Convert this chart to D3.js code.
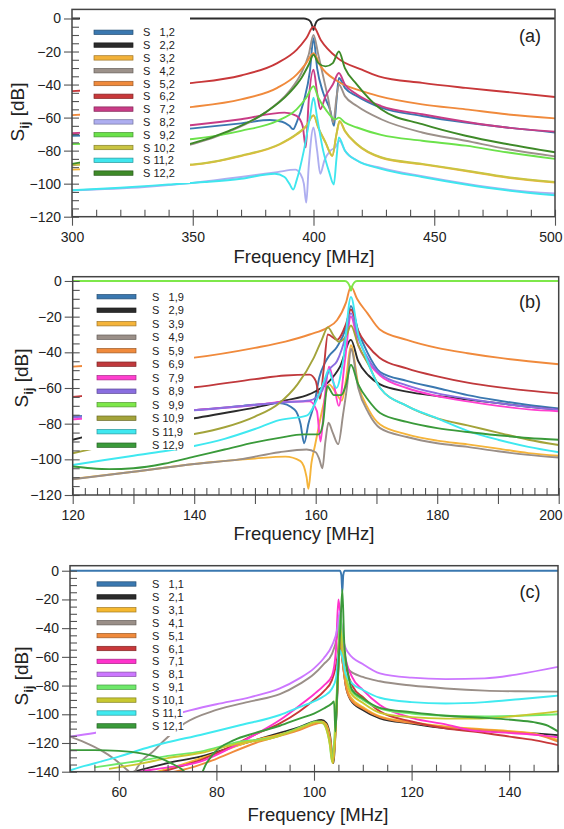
<!DOCTYPE html>
<html>
<head>
<meta charset="utf-8">
<script src="https://cdn.jsdelivr.net/npm/d3@7"></script>
<style>
body{margin:0;background:#fff;}
svg{display:block;font-family:"Liberation Sans",Arial,sans-serif;}
</style>
</head>
<body>
<div id="viz"></div>
<script>

// ---------- panel (a): S i,2 ----------
let a1 = [[300,-71],[330,-69],[350,-66.5],[370,-63.5],[382,-61.5],[387,-62.5],[390,-65],[391.6,-67],[393,-63],[396,-50],[398.5,-32],[400,-12],[401.5,-30],[404,-45],[407,-56],[408.5,-65],[409.5,-50],[410.5,-36],[413,-42],[418,-47],[428,-54],[445,-59],[463,-63],[480,-66],[500,-69]];
let a2 = [[300,0],[396,0],[397.5,-0.5],[398.8,-2],[399.6,-5],[400,-7],[400.4,-5],[401.2,-2],[402.5,-0.5],[404,0],[500,0]];
let a3 = [[300,-91.5],[320,-90.5],[350,-88.6],[370,-83.3],[386,-76.3],[393,-70.3],[397,-65.3],[400,-58.8],[402,-66.3],[405,-75.3],[407.8,-83.3],[409.5,-70.3],[410.8,-62.3],[413,-68.3],[418,-76.3],[428,-84.3],[445,-88.3],[463,-92.3],[480,-96.3],[500,-99.3]];
let a4 = [[300,-89],[320,-84],[340,-79],[350,-76],[365,-68.5],[380,-57],[390,-44],[395,-33],[398,-22],[400,-10],[402,-22],[404,-35],[406,-48],[408.2,-63],[409.5,-48],[410.5,-40],[413,-47],[418,-53],[428,-61],[445,-69],[463,-74],[480,-79],[500,-83.5]];
let a5 = [[300,-58.5],[330,-56],[350,-53.5],[370,-49],[385,-42],[393,-34],[397,-27],[400,-21],[403,-29],[410,-38],[420,-44],[427,-47],[445,-52],[463,-55],[480,-58],[500,-60.5]];
let a6 = [[300,-44],[330,-41.5],[350,-39],[370,-34.5],[385,-27],[393,-19],[397,-12],[400,-5],[403,-13],[410,-24],[420,-31],[427,-35],[445,-39],[463,-42],[480,-44.5],[500,-47.5]];
let a7 = [[300,-69.5],[330,-67],[350,-64.5],[370,-61],[388,-57],[393,-59],[395.5,-65],[396.8,-78],[398,-50],[400,-31],[401.5,-45],[402.8,-55],[405,-47],[408,-40],[410.5,-33],[413,-40],[418,-46],[428,-53],[445,-58],[463,-62.5],[480,-66],[500,-68.5]];
let a8 = [[300,-104],[330,-102],[350,-99.5],[370,-96],[385,-93],[392.5,-91.5],[394.5,-94],[396,-100],[397,-111.5],[398,-90],[400,-66],[401.5,-80],[402.8,-94],[404.5,-86],[407,-80],[409,-78],[410.8,-74],[413,-80],[418,-86],[428,-90.5],[445,-95.5],[463,-100],[480,-103.5],[500,-106]];
let a9 = [[300,-76],[330,-75],[350,-73],[370,-68],[385,-62],[393,-55],[397,-48],[400,-41],[402,-48],[405,-55],[409,-61],[410.5,-60],[413,-63],[418,-66],[428,-70.5],[445,-74],[463,-77],[480,-81],[500,-85]];
let a10 = [[300,-88.5],[330,-89],[350,-88.3],[370,-83],[386,-76],[393,-70],[397,-65],[400,-58.5],[402,-66],[405,-75],[407.8,-83],[409.5,-70],[410.8,-62],[413,-68],[418,-76],[428,-84],[445,-88],[463,-92],[480,-96],[500,-99]];
let a11 = [[300,-104],[320,-102.5],[340,-100.5],[355,-99],[370,-97],[384,-94],[388,-96],[390,-100],[391.6,-103.5],[393,-98],[396,-80],[398.5,-60],[400,-48],[401.5,-60],[404,-80],[406.5,-93],[408.4,-100.5],[409.5,-85],[410.5,-72],[413,-80],[418,-86],[428,-91],[445,-96],[463,-100.5],[480,-104],[500,-107]];
let a12 = [[300,-88],[320,-83],[340,-78.5],[350,-75.5],[365,-68],[380,-57],[390,-45],[395,-36],[398,-28],[400,-22],[402,-27],[405,-29],[408,-27],[410.5,-20],[413,-30],[418,-40],[428,-55],[445,-64],[463,-71],[480,-76],[500,-81]];
let namesA = ["1,2","2,2","3,2","4,2","5,2","6,2","7,2","8,2","9,2","10,2","11,2","12,2"];
let colorsA = ["#3a78b0","#2b2b2b","#f2b23a","#9c918a","#f08a3c","#c8383a","#c83c86","#aeaef0","#6be24a","#c9c442","#3fe6ee","#3e8a28"];

// ---------- panel (b): S i,9 ----------
let b1 = [[120,-76],[130,-74.5],[140,-72.4],[148,-70],[154,-68.5],[156.5,-72],[157.5,-80],[158.1,-91],[158.8,-80],[159.8,-68.5],[160.6,-54],[161.5,-46],[162.2,-42],[163.5,-37],[165,-26],[165.8,-14],[167,-28],[168.5,-40],[170.6,-51],[175,-56],[180,-60],[185,-64],[190,-67],[195,-69.5],[200,-71.5]];
let b2 = [[120,-89],[125,-85],[130,-82],[135,-79.5],[140,-77],[145,-74],[150,-71],[155,-67],[159,-63.5],[162,-57],[164,-48],[165.8,-33],[167,-45],[168.7,-53],[170.6,-58],[175,-62],[180,-64.5],[185,-66.5],[190,-68.5],[195,-70.5],[200,-72]];
let b3 = [[120,-111],[130,-107],[140,-102.6],[150,-99.5],[155,-98.5],[157.5,-101],[158.5,-110],[158.8,-116.5],[159.3,-102],[159.9,-92],[160.6,-80],[161.5,-66],[162.2,-58],[163.2,-62],[164.3,-67],[165,-55],[165.8,-36],[167,-58],[168.7,-72],[170.6,-80.5],[175,-86],[180,-89.5],[185,-91.6],[190,-94],[195,-96.5],[200,-98]];
let b4 = [[120,-111.2],[130,-107],[140,-102.6],[147.5,-100],[154,-96],[158.5,-94.5],[160,-96],[160.6,-100],[161.1,-105],[161.6,-90],[162.1,-79.5],[162.8,-85],[163.7,-91.5],[164.5,-75],[165.2,-58],[165.8,-38],[167,-60],[168.7,-74],[170.6,-82.5],[175,-87.5],[180,-91],[185,-93],[190,-95.5],[195,-97.5],[200,-99]];
let b5 = [[120,-48],[130,-46],[140,-43],[150,-37.5],[155,-34],[159,-30],[162,-26],[163.5,-22],[165,-12],[165.8,-3],[166.8,-10],[168.5,-18],[170.5,-27],[175,-33],[180,-37.5],[185,-40.5],[190,-43],[195,-45],[200,-46.7]];
let b6 = [[120,-65],[130,-62],[140,-59.6],[150,-55],[155,-53],[159,-52.5],[160,-56],[160.7,-66],[161.3,-50],[162,-30],[163.5,-33],[165,-24],[165.8,-16],[167,-28],[168.5,-36],[170.5,-43],[175,-49],[180,-53.5],[185,-57],[190,-59.5],[195,-61.5],[200,-63]];
let b7 = [[120,-77.6],[130,-75],[140,-72.4],[150,-69.5],[155,-67.7],[159,-67.5],[160.2,-73],[160.8,-90],[161.5,-65],[162.2,-48],[163,-58],[163.8,-70],[164.8,-45],[165.8,-20],[167,-36],[168.7,-46],[170.6,-53],[175,-60],[180,-64.5],[185,-67.5],[190,-70],[195,-72],[200,-73]];
let b8 = [[120,-76.5],[130,-74.5],[140,-72.5],[150,-69.5],[155,-68],[159,-67],[161,-62],[162.2,-50],[163.5,-45],[165,-30],[165.8,-18],[167,-32],[168.7,-44],[170.6,-52],[175,-58.5],[180,-63],[185,-66],[190,-68.5],[195,-70.5],[200,-72]];
let b9 = [[120,0],[164.8,0],[165.3,-1],[165.6,-3],[165.8,-5.5],[166,-3],[166.3,-1],[166.8,0],[200,0]];
let b10 = [[120,-96.6],[125,-93],[130,-90.5],[135,-88.5],[140,-85.8],[145,-82],[150,-76],[154,-68.5],[157,-58],[159.7,-43],[161,-33],[162,-26],[163,-31],[163.8,-34],[165,-31],[165.8,-25],[167,-36],[168.7,-47],[170.6,-60],[175,-70],[180,-77],[185,-81],[190,-85],[195,-89],[200,-92]];
let b11 = [[120,-103.2],[125,-100.5],[130,-98],[135,-95.5],[140,-92.5],[145,-88.5],[150,-83],[154,-78],[158.5,-75.5],[160.5,-64],[161.5,-55],[162.1,-50],[162.8,-56],[163.4,-60],[164.5,-45],[165.8,-9],[167,-30],[168.2,-42],[170.6,-60],[175,-70],[180,-77],[185,-84],[190,-89],[195,-93],[200,-96]];
let b12 = [[120,-104],[123,-105],[126,-105.5],[130,-105],[135,-102.5],[140,-98.5],[145,-94.5],[150,-90.5],[154,-88],[158,-86],[160.5,-86],[161.2,-80],[161.9,-59],[163,-64],[164.2,-64],[165,-58],[165.8,-47],[167,-58],[168.7,-67],[170.6,-74],[175,-79],[180,-82.5],[185,-84.7],[190,-86.5],[195,-88],[200,-89]];
let namesB = ["1,9","2,9","3,9","4,9","5,9","6,9","7,9","8,9","9,9","10,9","11,9","12,9"];
let colorsB = ["#3a78b0","#2b2b2b","#f5b43a","#9a8f88","#f08a3c","#c0393c","#ff3fcf","#8a6ee0","#7ee84a","#a3a33a","#3fe8f0","#3a9a3a"];

// ---------- panel (c): S i,1 ----------
let c1 = [[50,0],[105.3,0],[105.6,-3],[105.8,-15],[106,-3],[106.3,0],[150,0]];
let c2 = [[62,-141],[70,-134],[76.7,-129.5],[85,-121],[93,-113],[97,-109],[100,-105],[101.5,-104],[102.5,-106],[103.3,-115],[104,-134],[104.3,-120],[104.8,-85],[105.3,-50],[105.8,-62],[106.5,-80],[107.5,-90],[110,-97],[113.5,-102.8],[120,-106.5],[127,-109.8],[135,-111.5],[141,-112.5],[146,-113.5],[150,-114.5]];
let c3 = [[67,-141],[72,-136],[80,-127],[88,-118],[93,-114],[97,-110],[100,-106],[101.5,-105],[102.5,-107],[103.3,-117],[103.9,-134],[104.3,-118],[104.8,-80],[105.3,-45],[105.8,-60],[106.5,-78],[107.5,-88],[110,-95],[113.5,-101.5],[120,-105.5],[127,-108.5],[135,-110.5],[141,-112],[146,-114],[150,-118]];
let c4 = [[50,-115.5],[53,-119.5],[56.3,-125],[59,-131],[61.8,-139],[62.8,-142],[63.8,-137],[65,-131.5],[67,-126],[68.7,-120.2],[70,-116],[73.5,-106.3],[80,-97],[87,-91],[93,-86],[97,-79],[100,-72],[102,-65],[103.7,-58],[104.8,-45],[105.3,-35],[105.8,-55],[106.5,-64],[107.1,-69],[110,-74],[113.5,-77],[120,-80],[127,-82],[135,-83.5],[142,-84],[150,-84.2]];
let c5 = [[70,-141],[75,-137],[80,-131],[88,-120],[93,-115],[97,-111],[100,-107],[101.5,-106],[102.5,-108],[103.3,-118],[103.9,-133],[104.3,-118],[104.8,-82],[105.3,-48],[105.8,-62],[106.5,-80],[107.5,-89.5],[110,-96],[113.5,-102],[120,-106],[127,-109],[135,-111],[141,-112.5],[146,-114.5],[150,-119]];
let c6 = [[68,-141],[72,-137],[76.7,-132],[82,-124],[88,-114],[93,-106.3],[97,-98],[100,-90],[102,-84],[103.7,-76],[104.8,-60],[105.5,-38],[106,-55],[106.8,-70],[108,-81],[110,-88],[113.5,-98],[120,-105],[127,-109.8],[135,-113],[141,-116],[146,-118.5],[150,-121.5]];
let c7 = [[63,-141],[67,-138.5],[70,-137],[76.7,-133],[82,-125],[88,-114],[93,-104],[97,-94],[100,-86],[102,-80],[103.7,-73],[104.5,-55],[105,-20],[105.5,-35],[106.3,-58],[107.8,-74],[110,-83],[113.5,-93.5],[120.4,-102.8],[127,-107],[132,-111],[140.9,-113.2],[146,-114.5],[150,-116]];
let c8 = [[50,-115.6],[55,-113],[60,-110],[65,-106],[70,-102],[73.6,-98.2],[80,-93],[87,-88],[93,-82],[97,-75],[100,-68],[102,-61],[103.7,-52],[104.8,-40],[105.3,-28],[105.8,-45],[106.5,-54],[107.1,-57.5],[110,-65],[113.5,-71.5],[120,-74.5],[127,-75.5],[135,-75],[142,-72],[150,-67]];
let c9 = [[55,-137],[60,-134.5],[65,-132],[70,-129],[76.7,-126],[85,-119],[91,-116.7],[95,-112],[98,-108],[100.5,-105],[101.5,-105.5],[102.5,-110],[103.2,-120],[103.7,-133],[104.2,-115],[104.8,-75],[105.4,-30],[105.9,-55],[106.5,-72],[107.5,-83],[110,-90],[113.5,-96],[120,-99.5],[127,-101],[135,-101.5],[142,-101],[150,-100]];
let c10 = [[58,-138],[65,-134],[70,-130.5],[76.7,-127],[85,-120],[91,-117],[95,-112.5],[98,-108.5],[100.5,-105.5],[101.8,-106],[102.6,-111],[103.3,-122],[103.8,-134],[104.3,-116],[104.8,-78],[105.4,-40],[105.9,-58],[106.5,-74],[107.5,-85],[110,-92],[113.5,-99],[120,-102],[127,-103],[134,-103],[142,-101],[150,-98]];
let c11 = [[50,-139],[53,-136],[56.3,-133],[60,-129.5],[66.5,-122.6],[70,-119.5],[76.7,-114.4],[85,-107.5],[93,-100.5],[97,-95],[100,-91],[102,-87.5],[103.7,-82],[104.5,-75],[105.2,-55],[105.8,-60],[106.5,-72],[107.8,-78.4],[110,-83],[113.5,-88.5],[120,-91.5],[127,-92.5],[135,-91.5],[142,-89.5],[150,-87]];
let c12 = [[50,-125],[55,-125],[60,-125.5],[64.6,-127.2],[68,-130],[70.7,-134],[73,-138.5],[74.5,-143],[76.5,-143],[78,-134],[79.5,-127],[83.6,-118],[88,-113],[93,-108],[97,-103],[100,-99.5],[102,-96],[103.7,-92.3],[104.1,-91],[104.4,-112],[104.8,-80],[105.4,-40],[105.8,-13],[106.2,-50],[107,-72],[107.8,-83],[110,-89],[113.5,-95.5],[120,-98.5],[127,-101],[135,-102.5],[141,-104],[145,-105.5],[148,-108],[150,-112]];
let namesC = ["1,1","2,1","3,1","4,1","5,1","6,1","7,1","8,1","9,1","10,1","11,1","12,1"];
let colorsC = ["#3a78b0","#2b2b2b","#f5b830","#9a8f88","#f08a3c","#c8383a","#ff33cc","#cc77ff","#6ee86a","#c8c830","#40eaf0","#3a9a3a"];

let svg = d3.select("#viz")
    .append("svg")
        .attr("width", 564)
        .attr("height", 829);

let panels = [
    {tag:"(a)", series:[a1,a2,a3,a4,a5,a6,a7,a8,a9,a10,a11,a12], names:namesA, colors:colorsA,
     xDom:[300,500], xRange:[72,555], yDom:[-120,5.5], yRange:[216.7,9.4],
     xMinor:d3.range(300,501,10), xOut:[300,350,400,450,500], xLab:[300,350,400,450,500],
     yMinor:d3.range(-120,1,5), yMajor:d3.range(-120,1,20),
     box:[80,11,110,172], leg:{x:94, y:32.3, dy:12.8, tx:143},
     ytitle:[24,112], xtitle:[304,263], tagPos:[530,42]},
    {tag:"(b)", series:[b1,b2,b3,b4,b5,b6,b7,b8,b9,b10,b11,b12], names:namesB, colors:colorsB,
     xDom:[120,200], xRange:[72.7,558.7], yDom:[-120,2.4], yRange:[495,276.7],
     xMinor:d3.range(120,201,2), xOut:d3.range(120,201,10), xLab:[120,140,160,180,200],
     yMinor:d3.range(-120,1,5), yMajor:d3.range(-120,1,20),
     box:[82,283,112,167], leg:{x:97, y:296.7, dy:13.5, tx:152},
     ytitle:[28,378], xtitle:[304,540], tagPos:[530,308]},
    {tag:"(c)", series:[c1,c2,c3,c4,c5,c6,c7,c8,c9,c10,c11,c12], names:namesC, colors:colorsC,
     xDom:[50,150], xRange:[70,558], yDom:[-140,3.5], yRange:[771.7,565.7],
     xMinor:d3.range(50,151,5), xOut:[60,80,100,120,140], xLab:[60,80,100,120,140],
     yMinor:d3.range(-140,1,5), yMajor:d3.range(-140,1,20),
     box:[96,575,87,161], leg:{x:97, y:584, dy:12.9, tx:152},
     ytitle:[28,676], xtitle:[318,821], tagPos:[530,598]}
];

function drawPanel(p, i){
    let x = d3.scaleLinear().domain(p.xDom).range(p.xRange);
    let y = d3.scaleLinear().domain(p.yDom).range(p.yRange);
    let left = p.xRange[0], right = p.xRange[1], top = p.yRange[1], bottom = p.yRange[0];
    let g = svg.append("g");

    g.append("clipPath").attr("id","clip"+i)
        .append("rect")
        .attr("x",left).attr("y",top)
        .attr("width",right-left).attr("height",bottom-top);

    // curves
    let line = d3.line()
        .x(d => x(d[0]))
        .y(d => y(d[1]))
        .curve(d3.curveMonotoneX);

    g.append("g").attr("clip-path","url(#clip"+i+")")
        .selectAll("path").data(p.series).enter().append("path")
        .attr("d", line)
        .attr("fill","none")
        .attr("stroke",(d,k) => p.colors[k])
        .attr("stroke-width",1.9)
        .attr("stroke-linejoin","round");

    // legend box + items
    g.append("rect")
        .attr("x",p.box[0]).attr("y",p.box[1])
        .attr("width",p.box[2]).attr("height",p.box[3])
        .attr("fill","white");

    let items = g.selectAll(".leg").data(p.names).enter().append("g")
        .attr("class","leg")
        .attr("transform",(d,k) => "translate(0,"+(p.leg.y+k*p.leg.dy)+")");
    items.append("rect")
        .attr("x",p.leg.x).attr("y",-2.2)
        .attr("width",39).attr("height",4.4)
        .attr("fill",(d,k) => p.colors[k])
        .attr("stroke",(d,k) => d3.color(p.colors[k]).darker(1.2))
        .attr("stroke-width",0.7);
    items.append("text")
        .attr("x",p.leg.tx).attr("y",4)
        .attr("font-size","11px")
        .attr("fill","#222")
        .text(d => "S " + (d.split(",")[0].length < 2 ? "\u2007" : "") + d);

    // axes
    let ax = g.append("g").attr("transform","translate(0,"+bottom+")");
    ax.append("g").call(d3.axisBottom(x).tickValues(p.xMinor).tickSize(-7).tickFormat(""));
    ax.append("g").call(d3.axisBottom(x).tickValues(p.xOut).tickSize(9).tickPadding(6)
        .tickFormat(d => p.xLab.includes(d) ? d : ""));
    // last label sits flush with the right edge like the original
    ax.selectAll(".tick text").filter(d => d === p.xDom[1])
        .attr("text-anchor","end").attr("x", 562 - right);
    let ay = g.append("g").attr("transform","translate("+left+",0)");
    ay.append("g").call(d3.axisLeft(y).tickValues(p.yMinor).tickSize(-7).tickFormat(""));
    ay.append("g").call(d3.axisLeft(y).tickValues(p.yMajor).tickSize(8).tickPadding(3));
    g.selectAll(".domain").remove();
    g.selectAll(".tick line").attr("stroke","#555").attr("stroke-width",1.1);
    g.selectAll(".tick text").attr("font-size","14px").attr("fill","#222")
        .attr("font-family","'Liberation Sans',Arial,sans-serif");

    // frame
    g.append("rect")
        .attr("x",left).attr("y",top)
        .attr("width",right-left).attr("height",bottom-top)
        .attr("fill","none").attr("stroke","#444").attr("stroke-width",1.5);

    // titles
    g.append("text")
        .attr("x",p.xtitle[0]).attr("y",p.xtitle[1])
        .attr("text-anchor","middle").attr("font-size","18.5px").attr("fill","#222")
        .text("Frequency [MHz]");

    let yt = g.append("text")
        .attr("transform","translate("+p.ytitle[0]+","+p.ytitle[1]+") rotate(-90)")
        .attr("text-anchor","middle").attr("font-size","19px").attr("fill","#222");
    yt.append("tspan").text("S");
    yt.append("tspan").attr("dy",5).attr("font-size","13px").attr("font-weight","bold").text("ij");
    yt.append("tspan").attr("dy",-5).text(" [dB]");

    g.append("text")
        .attr("x",p.tagPos[0]).attr("y",p.tagPos[1])
        .attr("text-anchor","middle").attr("font-size","18px").attr("fill","#222")
        .text(p.tag);
}

panels.forEach(drawPanel);

</script>
</body>
</html>
